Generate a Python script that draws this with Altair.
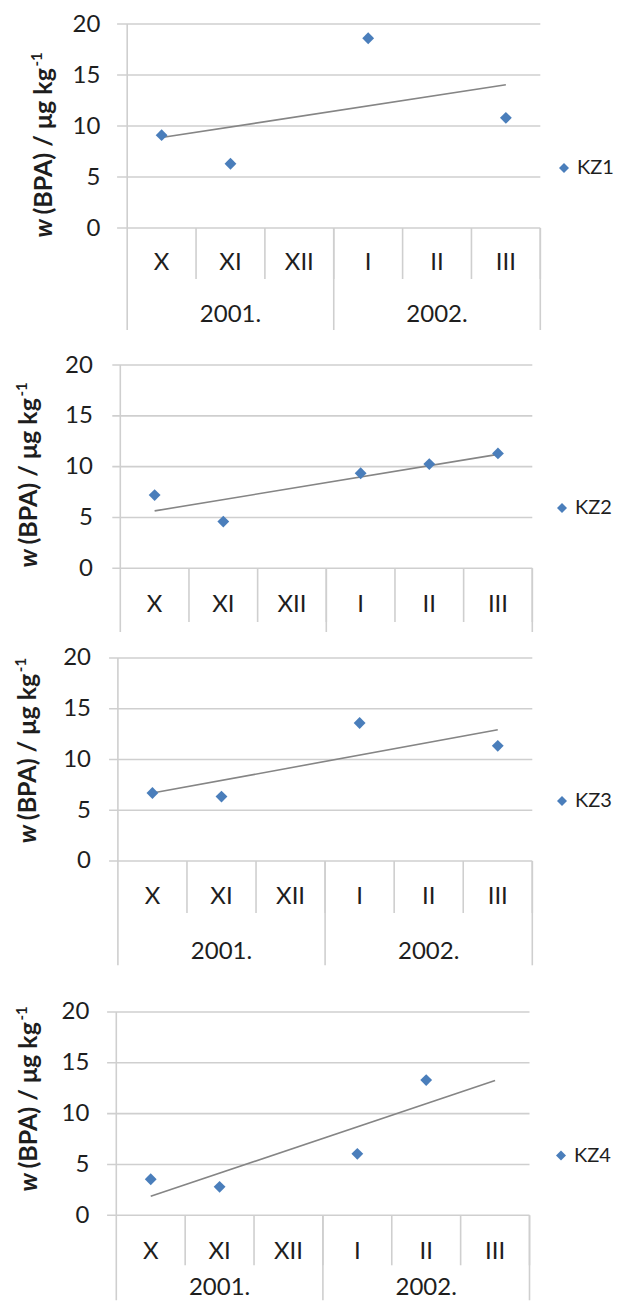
import altair as alt
import pandas as pd

# ---------------- data ----------------
months = ["X", "XI", "XII", "I", "II", "III"]
month_pos = [1, 2, 3, 4, 5, 6]
years = ["2001.", "2002."]
year_pos = [2, 5]
series_names = ["KZ1", "KZ2", "KZ3", "KZ4"]
kz1 = [9.1, 6.3, None, 18.6, None, 10.8]
kz2 = [7.2, 4.6, None, 9.35, 10.25, 11.3]
kz3 = [6.7, 6.35, None, 13.6, None, 11.35]
kz4 = [3.55, 2.8, None, 6.05, 13.3, None]
y_ticks = [0, 5, 10, 15, 20]
month_dividers = [1.5, 2.5, 3.5, 4.5, 5.5, 6.5]
year_dividers = [3.5, 6.5]

# ---------------- layout (pixels of the reference page) ----------------
L = 104.0
FONT = "Lato"
TXT = "#1e1e1e"
GRID = "#cfcfcf"
BLUE = "#4a7ebb"
FS = 24
TFS = 25

layouts = [
    dict(top=24, zero=228, next_top=365, axis=128.4, grid=118.3, right=541.5,
         lab_right=101, title_x=52, title_y=233, leg=(566, 170),
         month_bottom=279, year_bottom=330, month_y=263, year_y=315),
    dict(top=365, zero=568.3, next_top=657.7, axis=121.5, grid=113.5, right=533.5,
         lab_right=93.5, title_x=37, title_y=563, leg=(564, 510),
         month_bottom=622, year_bottom=632, month_y=605, year_y=None),
    dict(top=657.7, zero=860.7, next_top=1011.7, axis=119.1, grid=110.3, right=533.5,
         lab_right=91.7, title_x=36, title_y=838.3, leg=(564, 802.7),
         month_bottom=912.7, year_bottom=965, month_y=896.7, year_y=952),
    dict(top=1011.7, zero=1215, next_top=1300, axis=117.5, grid=108.3, right=530.7,
         lab_right=90, title_x=37, title_y=1186.7, leg=(563, 1157.3),
         month_bottom=1265, year_bottom=1300, month_y=1251.7, year_y=1288),
]


def panel(vals, name, lay):
    ppu = (lay["zero"] - lay["top"]) / 20.0
    height = lay["next_top"] - lay["top"]
    ybot = 20 - height / ppu
    cw = (lay["right"] - lay["axis"]) / 6.0
    xlo = 0.5 - (lay["axis"] - L) / cw
    width = lay["right"] - L
    gs = 0.5 - (lay["axis"] - lay["grid"]) / cw

    def u(py):
        return (lay["zero"] - py) / ppu

    xs = alt.Scale(domain=[xlo, 6.5], nice=False, zero=False)
    ys = alt.Scale(domain=[ybot, 20], nice=False, zero=False)
    yaxis = alt.Axis(values=y_ticks, grid=False, domain=False, ticks=False, tickSize=0,
                     labelPadding=0, offset=L - lay["lab_right"], title=None,
                     labelFont=FONT, labelFontSize=FS, labelColor=TXT)

    def X(f):
        return alt.X(f, type="quantitative", scale=xs, axis=None)

    def Y(f):
        return alt.Y(f, type="quantitative", scale=ys, axis=yaxis)

    pts = pd.DataFrame({"xv": month_pos, "yv": vals, "series": name}).dropna()

    grid_df = pd.DataFrame({"yv": y_ticks, "x0": gs, "x1": 6.5})
    grid = alt.Chart(grid_df).mark_rule(color=GRID, strokeWidth=1.6).encode(
        x=X("x0"), x2="x1", y=Y("yv"))

    axis_df = pd.DataFrame({"xv": [0.5], "y0": [u(lay["year_bottom"])], "y1": [20]})
    axis_line = alt.Chart(axis_df).mark_rule(color=GRID, strokeWidth=1.6).encode(
        x=X("xv"), y=Y("y0"), y2="y1")

    md = pd.DataFrame({"xv": month_dividers, "y0": u(lay["month_bottom"]), "y1": 0})
    mdiv = alt.Chart(md).mark_rule(color=GRID, strokeWidth=1.6).encode(
        x=X("xv"), y=Y("y0"), y2="y1")

    yd = pd.DataFrame({"xv": year_dividers, "y0": u(lay["year_bottom"]), "y1": 0})
    ydiv = alt.Chart(yd).mark_rule(color=GRID, strokeWidth=1.6).encode(
        x=X("xv"), y=Y("y0"), y2="y1")

    ml = pd.DataFrame({"xv": month_pos, "yv": u(lay["month_y"]), "t": months})
    mlab = alt.Chart(ml).mark_text(font=FONT, fontSize=FS, color=TXT, baseline="middle").encode(
        x=X("xv"), y=Y("yv"), text="t:N")

    layers = [grid, axis_line, mdiv, ydiv, mlab]
    if lay["year_y"] is not None:
        yl = pd.DataFrame({"xv": year_pos, "yv": u(lay["year_y"]), "t": years})
        ylab = alt.Chart(yl).mark_text(font=FONT, fontSize=FS, color=TXT, baseline="middle").encode(
            x=X("xv"), y=Y("yv"), text="t:N")
        layers.append(ylab)

    trend = alt.Chart(pts).transform_regression(
        "xv", "yv", method="linear", extent=[1, 6]
    ).mark_line(color="#858585", strokeWidth=1.6).encode(x=X("xv"), y=Y("yv"))

    legx = lay["leg"][0] - L - 10.8
    legy = lay["leg"][1] - lay["top"] - 12
    points = alt.Chart(pts).mark_point(shape="diamond", filled=True, size=140, opacity=1).encode(
        x=X("xv"), y=Y("yv"),
        color=alt.Color("series:N", scale=alt.Scale(domain=[name], range=[BLUE]),
                        legend=alt.Legend(orient="none", legendX=legx, legendY=legy, title=None,
                                          symbolType="diamond", symbolSize=100, symbolStrokeWidth=0,
                                          labelFont=FONT, labelFontSize=20, labelColor=TXT,
                                          labelOffset=3, padding=0)))

    tx = lay["title_x"] - L + 1.5
    ty = lay["title_y"] - lay["top"] + 4.6
    seg2_start = ty - 23
    seg2_len = 147
    t1 = alt.Chart(pd.DataFrame({"t": ["w"]})).mark_text(
        font=FONT, fontSize=TFS, fontWeight="bold", fontStyle="italic", color=TXT,
        angle=270, align="left", baseline="alphabetic").encode(
        x=alt.value(tx), y=alt.value(ty), text="t:N")
    t2 = alt.Chart(pd.DataFrame({"t": ["(BPA) / \u03bcg kg"]})).mark_text(
        font=FONT, fontSize=TFS, fontWeight="bold", color=TXT,
        angle=270, align="left", baseline="alphabetic").encode(
        x=alt.value(tx), y=alt.value(seg2_start), text="t:N")
    t3 = alt.Chart(pd.DataFrame({"t": ["-1"]})).mark_text(
        font=FONT, fontSize=15, fontWeight="bold", color=TXT,
        angle=270, align="left", baseline="alphabetic").encode(
        x=alt.value(tx - 10), y=alt.value(seg2_start - seg2_len - 1), text="t:N")

    layers += [trend, points, t1, t2, t3]
    return alt.layer(*layers).properties(width=width, height=height)


charts = [panel(v, n, lay) for v, n, lay in zip([kz1, kz2, kz3, kz4], series_names, layouts)]

chart = alt.vconcat(*charts, spacing=0, bounds="flush").resolve_scale(
    color="independent"
).resolve_legend(color="independent").properties(
    padding={"left": 5.8, "top": 4, "right": 0, "bottom": 0},
    background="white",
).configure_view(stroke=None)

chart.save("out.html", embed_options={"renderer": "svg", "actions": False})
